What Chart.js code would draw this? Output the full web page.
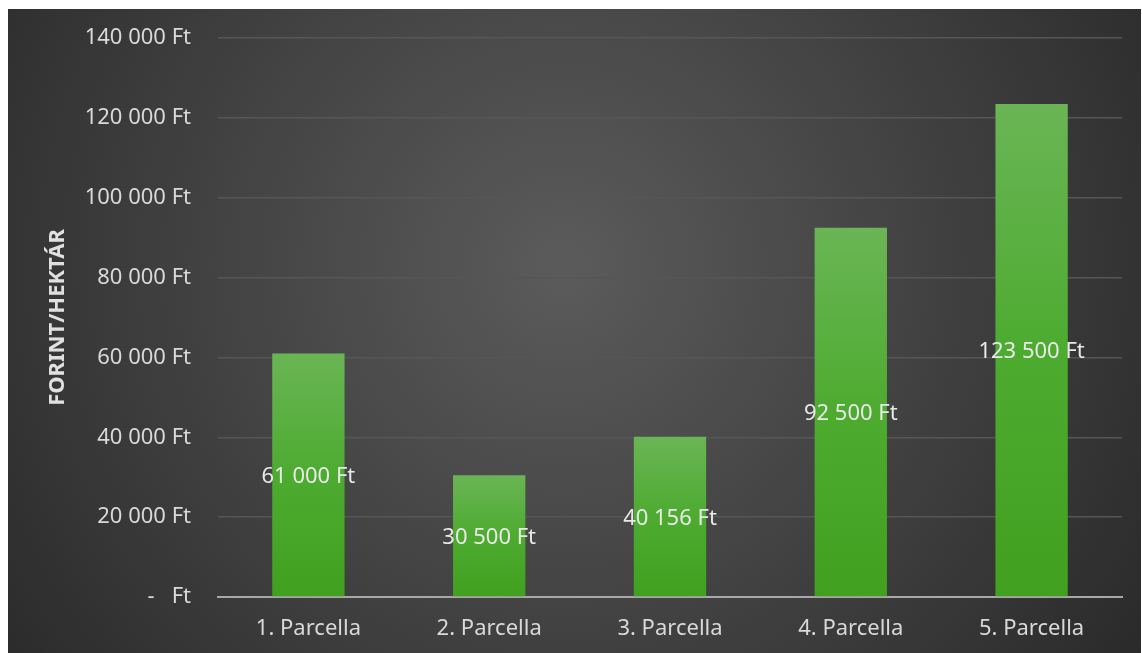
<!DOCTYPE html>
<html>
<head>
<meta charset="utf-8">
<script src="https://cdn.jsdelivr.net/npm/chart.js@4"></script>
<style>
  body { margin: 0; background: #ffffff; }
  #wrap { position: absolute; left: 8px; top: 9px; width: 1133px; height: 644px; }
</style>
</head>
<body>
<div id="wrap"><canvas id="chart-parcella"></canvas></div>
<script>
const parcellaLabels = ['1. Parcella', '2. Parcella', '3. Parcella', '4. Parcella', '5. Parcella'];
const forintPerHektar = [61000, 30500, 40156, 92500, 123500];
const yAxisTitle = 'FORINT/HEKTÁR';

const FONT = '"Noto Sans", sans-serif';

function formatFt(value) {
    if (value === 0) {
        return '-   Ft';
    }
    return String(value).replace(/\B(?=(\d{3})+(?!\d))/g, ' ') + ' Ft';
}

// dark background, lighter towards the middle
const backgroundPlugin = {
    id: 'darkBackground',
    beforeDraw(chart) {
        const ctx = chart.ctx;
        const w = chart.width, h = chart.height;
        const g = ctx.createRadialGradient(w * 0.49, h * 0.4, 0, w * 0.49, h * 0.4, w * 0.64);
        g.addColorStop(0, '#5b5b5b');
        g.addColorStop(1, '#282828');
        ctx.save();
        ctx.fillStyle = g;
        ctx.fillRect(0, 0, w, h);
        ctx.restore();
    }
};

// value printed in the middle of each bar
const barValuePlugin = {
    id: 'barValues',
    afterDatasetsDraw(chart) {
        const ctx = chart.ctx;
        const meta = chart.getDatasetMeta(0);
        ctx.save();
        ctx.font = '22px ' + FONT;
        ctx.fillStyle = '#e8e8e8';
        ctx.textAlign = 'center';
        ctx.textBaseline = 'middle';
        meta.data.forEach((bar, i) => {
            const value = chart.data.datasets[0].data[i];
            ctx.fillText(formatFt(value), bar.x, (bar.y + bar.base) / 2 + 2);
        });
        ctx.restore();
    }
};

function barGradient(context) {
    const chart = context.chart;
    const y = chart.scales.y;
    const fallback = '#4caa2e';
    if (!chart.chartArea || !y || context.dataIndex === undefined) {
        return fallback;
    }
    const top = y.getPixelForValue(forintPerHektar[context.dataIndex]);
    const bottom = y.getPixelForValue(0);
    if (!isFinite(top) || !isFinite(bottom)) {
        return fallback;
    }
    const g = chart.ctx.createLinearGradient(0, top, 0, bottom);
    g.addColorStop(0, '#6ab555');
    g.addColorStop(0.5, '#4dab30');
    g.addColorStop(1, '#41a01f');
    return g;
}

new Chart(document.getElementById('chart-parcella'), {
    type: 'bar',
    data: {
        labels: parcellaLabels,
        datasets: [{
            data: forintPerHektar,
            backgroundColor: barGradient,
            barPercentage: 0.4,
            categoryPercentage: 1
        }]
    },
    options: {
        responsive: true,
        maintainAspectRatio: false,
        animation: false,
        layout: {
            padding: { top: 29, right: 19, left: 0, bottom: 0 }
        },
        plugins: {
            legend: { display: false },
            tooltip: { enabled: false }
        },
        scales: {
            x: {
                grid: { display: false },
                border: { color: '#a8a8a8', width: 2 },
                ticks: {
                    color: '#d9d9d9',
                    font: { family: FONT, size: 22 },
                    padding: 11
                },
                afterFit(scale) { scale.height = 56; }
            },
            y: {
                min: 0,
                max: 140000,
                border: { display: false },
                grid: {
                    color: '#565656',
                    lineWidth: 1.5,
                    // invisible tick marks keep the labels clear of the plot
                    drawTicks: true,
                    tickLength: 27,
                    tickColor: 'rgba(0,0,0,0)'
                },
                ticks: {
                    stepSize: 20000,
                    color: '#d9d9d9',
                    font: { family: FONT, size: 22 },
                    padding: 0,
                    callback: value => formatFt(value)
                },
                title: {
                    display: true,
                    text: yAxisTitle,
                    color: '#e0e0e0',
                    font: { family: FONT, size: 22, weight: 'bold' },
                    padding: { top: 37, bottom: 0 }
                },
                afterFit(scale) { scale.width = 210; }
            }
        }
    },
    plugins: [backgroundPlugin, barValuePlugin]
});
</script>
</body>
</html>
